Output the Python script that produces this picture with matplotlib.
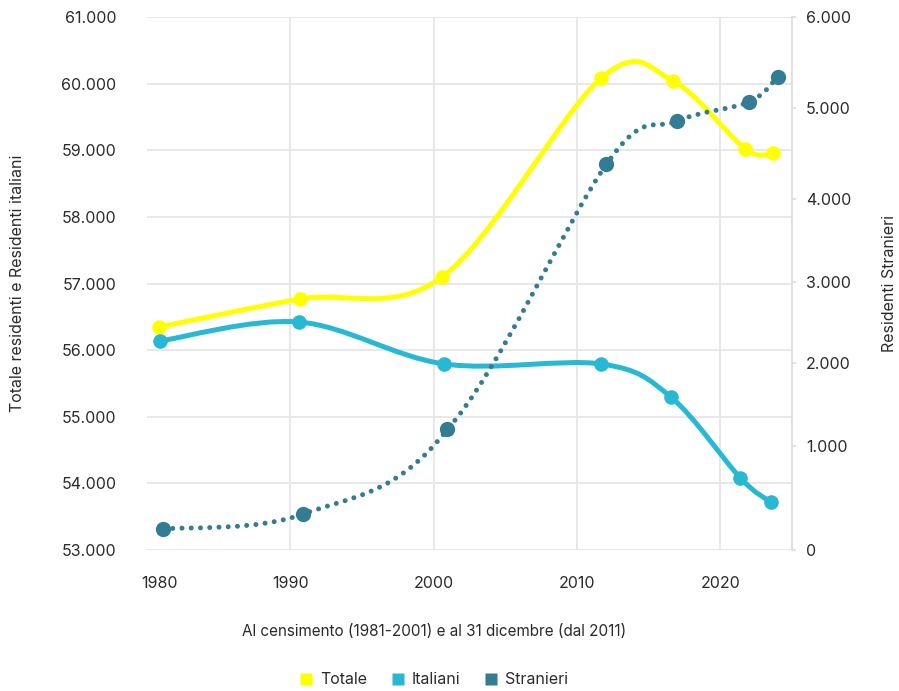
import numpy as np
import matplotlib
matplotlib.use("Agg")
import matplotlib.pyplot as plt
from matplotlib.path import Path
from matplotlib.patches import PathPatch
from matplotlib.lines import Line2D
from matplotlib.ticker import FuncFormatter, FixedLocator
import matplotlib.transforms as mtransforms

plt.rcParams['font.family'] = ['Inter', 'DejaVu Sans']

# residenti (migliaia) - asse sinistro
anni = [1980.85, 1990.65, 2000.6, 2011.7, 2016.7, 2021.75, 2023.7]
totale = [56347, 56767, 57098, 60084, 60039, 59019, 58959]
anni_it = [1980.9, 1990.6, 2000.75, 2011.7, 2016.55, 2021.4, 2023.5]
italiani = [56137, 56422, 55792, 55792, 55296, 54081, 53720]

# stranieri (migliaia) - asse destro
anni_str = [1981.15, 1990.9, 2000.95, 2012.05, 2017.0, 2022.0, 2024.0]
stranieri = [202, 346, 1200, 4380, 4857, 5066, 5341]

# posizione dei tick dell'asse destro (frazione dell'altezza)
tick_dx = [0, 1000, 2000, 3000, 4000, 5000, 6000]
pos_dx = [0, 104 / 533, 187 / 533, 268 / 533, 351 / 533, 442 / 533, 1.0]

c_tot = '#FFFF00'
c_ita = '#27B9D4'
c_str = '#347B94'
txt = '#2b2b2b'
grid_c = '#e6e6e6'


def smooth_path(xs, ys):
    pts = np.column_stack([xs, ys]).astype(float)
    p = np.vstack([pts[0], pts, pts[-1]])
    verts = [pts[0]]
    codes = [Path.MOVETO]
    for i in range(1, len(p) - 2):
        c1 = p[i] + (p[i + 1] - p[i - 1]) / 6
        c2 = p[i + 1] - (p[i + 2] - p[i]) / 6
        verts += [c1, c2, p[i + 1]]
        codes += [Path.CURVE4] * 3
    return Path(verts, codes)


def fwd(v):
    return np.interp(v, tick_dx, np.array(pos_dx) * 6000)


def inv(t):
    return np.interp(t, np.array(pos_dx) * 6000, tick_dx)


fmt = FuncFormatter(lambda v, p: f"{int(round(v)):,}".replace(',', '.'))

fig = plt.figure(figsize=(8.99, 6.91), dpi=100)
ax = fig.add_axes([147 / 899, 1 - 550 / 691, 645 / 899, 533 / 691])

ax.set_xlim(1980, 2025)
ax.set_ylim(53000, 61000)
ax.set_xticks([1980, 1990, 2000, 2010, 2020])
ax.set_yticks(range(53000, 61001, 1000))
ax.yaxis.set_major_formatter(fmt)
ax.grid(True, color=grid_c, lw=1.3)
ax.set_axisbelow(True)
for s in ax.spines.values():
    s.set_visible(False)
ax.tick_params(axis='y', length=0, pad=22, labelsize=11.5, labelcolor=txt)
ax.tick_params(axis='x', length=0, pad=19, labelsize=11.5, labelcolor=txt)
t0 = ax.xaxis.get_major_ticks()[0]
t0.gridline.set_visible(False)
t0.label1.set_transform(t0.label1.get_transform() +
                        mtransforms.ScaledTranslation(0.13, 0, fig.dpi_scale_trans))

ax.add_patch(PathPatch(smooth_path(anni, totale), fill=False, ec=c_tot, lw=3.6,
                       capstyle='round', zorder=3))
ax.plot(anni, totale, 'o', ms=10.5, color=c_tot, mec='none', zorder=4)
ax.add_patch(PathPatch(smooth_path(anni_it, italiani), fill=False, ec=c_ita, lw=3.6,
                       capstyle='round', zorder=3))
ax.plot(anni_it, italiani, 'o', ms=10.5, color=c_ita, mec='none', zorder=4)

ax2 = ax.twinx()
ax2.set_yscale('function', functions=(fwd, inv))
ax2.set_ylim(0, 6000)
ax2.yaxis.set_major_locator(FixedLocator(tick_dx))
ax2.yaxis.set_major_formatter(fmt)
for k, s in ax2.spines.items():
    s.set_visible(k == 'right')
ax2.spines['right'].set_color('#dcdcdc')
ax2.spines['right'].set_linewidth(1.3)
ax2.tick_params(axis='y', length=3, width=1.2, color='#dcdcdc', pad=7,
                labelsize=11.5, labelcolor=txt)

ax2.add_patch(PathPatch(smooth_path(anni_str, stranieri), fill=False, ec=c_str, lw=3.6,
                        linestyle=(0, (0.001, 1.85)), capstyle='round', zorder=3))
ax2.plot(anni_str, stranieri, 'o', ms=11, color=c_str, mec='none', zorder=4)

fig.text(18 / 899, 1 - 283 / 691, 'Totale residenti e Residenti italiani', rotation=90,
         ha='center', va='center', fontsize=11.5, color=txt)
fig.text(889 / 899, 1 - 283 / 691, 'Residenti Stranieri', rotation=90,
         ha='center', va='center', fontsize=11.5, color=txt)
fig.text(434 / 899, 1 - 632 / 691, 'Al censimento (1981-2001) e al 31 dicembre (dal 2011)',
         ha='center', va='center', fontsize=11, color=txt)

handles = [Line2D([], [], ls='none', marker='s', ms=8.5, color=c, mec='none')
           for c in (c_tot, c_ita, c_str)]
fig.legend(handles, ['Totale', 'Italiani', 'Stranieri'], loc='center',
           bbox_to_anchor=(434 / 899, 1 - 680 / 691), ncol=3, frameon=False,
           fontsize=11.5, handletextpad=0.5, columnspacing=1.5, handlelength=0.8,
           labelcolor=txt)

fig.savefig('out.png', dpi=100)
